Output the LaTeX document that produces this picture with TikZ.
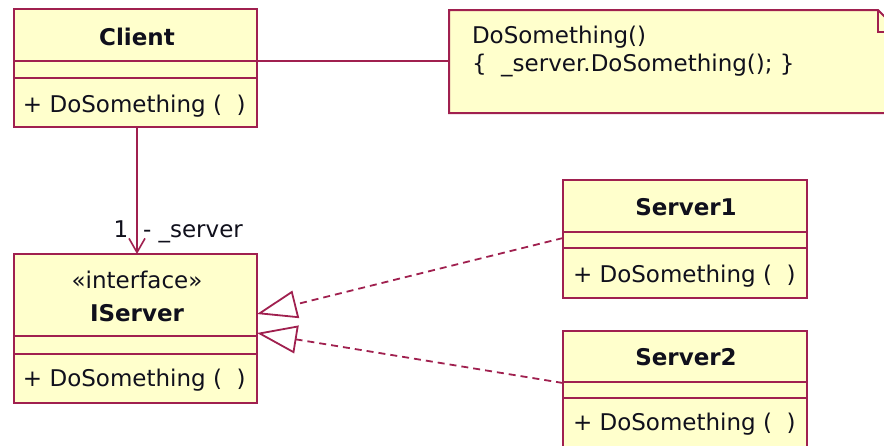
\documentclass[tikz,border=0pt]{standalone}
\usepackage{fontspec}
\setmainfont{DejaVu Sans}
\usetikzlibrary{arrows.meta,calc}
\definecolor{umlborder}{HTML}{A0204F}
\definecolor{umlfill}{HTML}{FFFFCC}
\definecolor{umltext}{HTML}{10101C}
\tikzset{
  classbox/.style={draw=umlborder, fill=umlfill, line width=2pt, rectangle, inner sep=0pt, outer sep=0pt, anchor=north west},
  notebox/.style={draw=none, rectangle, inner sep=0pt, outer sep=0pt, anchor=north west},
  divider/.style={draw=umlborder, line width=2pt},
  txt/.style={text=umltext, inner sep=0pt, outer sep=0pt, font=\fontsize{23}{27}\selectfont},
  ttl/.style={text=umltext, inner sep=0pt, outer sep=0pt, font=\fontsize{23}{27}\selectfont\bfseries},
  assoc/.style={draw=umlborder, line width=1.6pt, -{Straight Barb[length=14pt,width=16pt,line width=1.6pt]}},
  gen/.style={draw=umlborder, line width=1.8pt, dash pattern=on 7pt off 5pt, -{Triangle[open,length=40pt,width=28pt,line width=1.8pt]}},
  plain/.style={draw=umlborder, line width=1.6pt}
}
\begin{document}
\begin{tikzpicture}[x=1pt,y=1pt]
\useasboundingbox (0,0) rectangle (884,-445);
\clip (0,0) rectangle (884,-445);
\fill[white] (0,0) rectangle (884,-445);

% Client
\node[classbox, minimum width=243pt, minimum height=118pt] (client) at (14,-9) {};
\draw[divider] (client.west |- 0,-61) -- (client.east |- 0,-61);
\draw[divider] (client.west |- 0,-78) -- (client.east |- 0,-78);
\node[ttl, anchor=base] (clientname) at (137,-45) {Client};
\node[txt, anchor=base west] (clientop) at (23,-112) {+ DoSomething (\ \ )};

% Note
\node[notebox, minimum width=451pt, minimum height=103pt] (note) at (449,-10) {};
\filldraw[draw=umlborder, fill=umlfill, line width=2pt]
  (note.north west) -- ($(note.north east)+(-22,0)$) -- ($(note.north east)+(0,-22)$)
  -- (note.south east) -- (note.south west) -- cycle;
\draw[divider] ($(note.north east)+(-22,0)$) |- ($(note.north east)+(0,-22)$);
\node[txt, anchor=base west] (noteline1) at (472,-43) {DoSomething()};
\node[txt, anchor=base west] (noteline2) at (472,-71) {\{\ \ \_server.DoSomething(); \}};

% IServer
\node[classbox, minimum width=243pt, minimum height=149pt] (iserver) at (14,-254) {};
\draw[divider] (iserver.west |- 0,-336) -- (iserver.east |- 0,-336);
\draw[divider] (iserver.west |- 0,-354) -- (iserver.east |- 0,-354);
\node[txt, anchor=base] (stereo) at (137,-288) {«interface»};
\node[ttl, anchor=base] (iservername) at (137,-321) {IServer};
\node[txt, anchor=base west] (iserverop) at (23,-386) {+ DoSomething (\ \ )};

% Server1
\node[classbox, minimum width=244pt, minimum height=118pt] (s1) at (563,-180) {};
\draw[divider] (s1.west |- 0,-232) -- (s1.east |- 0,-232);
\draw[divider] (s1.west |- 0,-248) -- (s1.east |- 0,-248);
\node[ttl, anchor=base] (s1name) at (686,-215) {Server1};
\node[txt, anchor=base west] (s1op) at (573,-282) {+ DoSomething (\ \ )};

% Server2
\node[classbox, minimum width=244pt, minimum height=118pt] (s2) at (563,-331) {};
\draw[divider] (s2.west |- 0,-382) -- (s2.east |- 0,-382);
\draw[divider] (s2.west |- 0,-398) -- (s2.east |- 0,-398);
\node[ttl, anchor=base] (s2name) at (686,-365) {Server2};
\node[txt, anchor=base west] (s2op) at (573,-430) {+ DoSomething (\ \ )};

% connectors
\draw[plain] (client.east |- 0,-61) -- (note.west |- 0,-61);
\draw[assoc] ([xshift=1.5pt]client.south) -- ([xshift=1.5pt]iserver.north);
\node[txt, anchor=base] (mult) at (121,-237) {1};
\node[txt, anchor=base west] (role) at (143,-237) {- \_server};
\draw[gen] (s1.west |- 0,-238) -- (iserver.east |- 0,-314);
\draw[gen] (s2.west |- 0,-383) -- (iserver.east |- 0,-333);
\end{tikzpicture}
\end{document}
